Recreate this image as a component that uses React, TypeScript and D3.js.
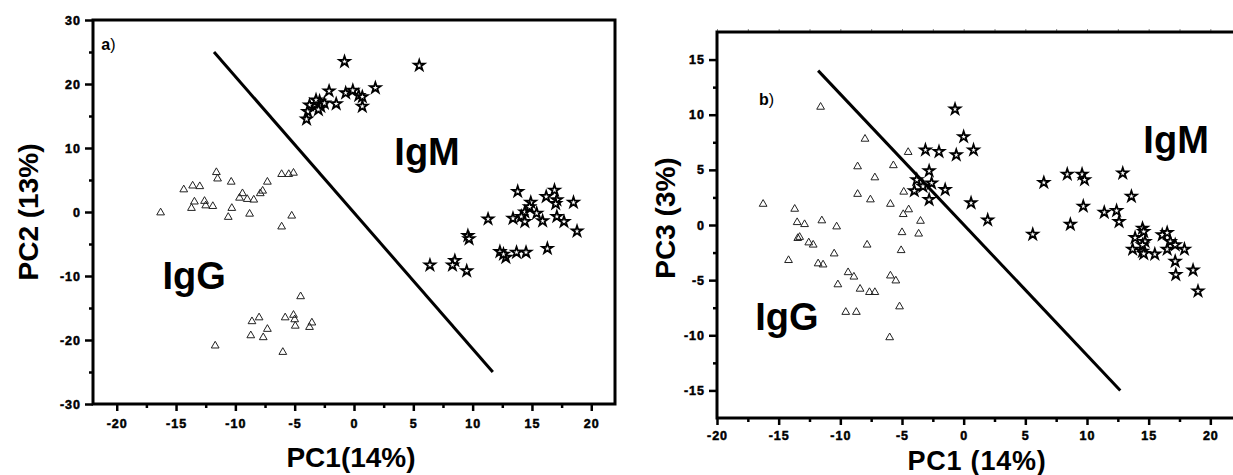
import React, { useEffect, useRef } from "react";
import * as d3 from "d3";

type Pt = [number, number];

// panel a) PC1 vs PC2
const aIgG: Pt[] = [
  [-16.3, -0.1], [-14.35, 3.5], [-13.6, 4.1], [-13.0, 4.0], [-13.45, 1.6], [-13.7, 0.6],
  [-12.6, 1.7], [-12.5, 1.0], [-11.9, 0.9], [-11.6, 6.2], [-11.5, 5.2], [-10.35, 4.7],
  [-10.3, 0.6], [-10.6, -0.8], [-9.4, 2.9], [-9.65, 2.2], [-9.0, 2.0], [-8.45, 1.9],
  [-8.8, -0.3], [-7.9, 2.9], [-7.7, 3.3], [-7.3, 4.7], [-6.1, 5.9], [-5.5, 5.9],
  [-5.1, 6.1], [-6.1, -2.3], [-5.25, -0.6],
  [-4.5, -13.2], [-8.6, -17.1], [-8.0, -16.5], [-8.7, -19.3], [-7.3, -18.3], [-7.65, -19.6],
  [-5.8, -16.5], [-5.1, -16.1], [-5.0, -16.8], [-4.95, -17.8], [-3.75, -18.0], [-3.55, -17.3],
  [-6.0, -21.9], [-11.7, -20.9],
];
const aIgM: Pt[] = [
  [-0.8, 23.5], [5.5, 22.9], [1.8, 19.4], [-2.1, 18.9], [-0.7, 18.6], [-0.1, 19.0],
  [0.4, 18.2], [0.7, 18.0], [0.7, 16.5], [-1.5, 16.9], [-2.9, 17.3], [-3.3, 16.8],
  [-2.8, 16.5], [-3.75, 16.7], [-3.0, 16.0], [-3.9, 15.7], [-4.0, 14.5], [-3.2, 17.5],
  [-2.5, 17.0],
  [13.8, 3.2], [11.3, -1.1], [9.6, -3.7], [9.7, -4.2], [14.9, 1.5], [16.2, 2.4],
  [16.9, 3.4], [17.1, 1.9], [17.0, 1.3], [18.5, 1.5], [14.4, 0.0], [13.4, -1.0],
  [14.1, -0.7], [14.4, -1.5], [15.4, -0.2], [15.9, -1.4], [17.1, -0.7], [17.7, -1.5],
  [18.8, -3.0], [14.8, 0.8], [16.3, -5.7], [12.3, -6.2], [13.7, -6.3], [14.5, -6.3],
  [12.8, -7.1], [8.5, -7.6], [8.3, -8.3], [6.4, -8.3], [9.5, -9.2], [12.6, -6.6],
];
const aSplit: Pt[] = [[-11.8, 25], [11.7, -25]];

// panel b) PC1 vs PC3
const bIgG: Pt[] = [
  [-8.0, 7.8], [-4.5, 6.6], [-8.6, 5.3], [-5.7, 5.4], [-7.2, 4.3], [-8.6, 2.8],
  [-7.56, 2.3], [-5.94, 1.9], [-4.86, 3.0], [-4.46, 1.4], [-4.9, 0.97], [-3.5, 0.36],
  [-5.0, -0.67], [-3.65, -0.8], [-5.07, -2.3], [-7.83, -1.8], [-10.5, -2.6], [-16.26, 1.9],
  [-13.7, 1.45], [-13.5, 0.24], [-12.9, 0.06], [-11.5, 0.4], [-10.3, -0.15], [-13.45, -1.2],
  [-13.3, -1.1], [-12.56, -1.6], [-12.2, -1.8], [-14.2, -3.2], [-11.8, -3.5], [-11.4, -3.6],
  [-9.37, -4.3], [-8.9, -4.7], [-10.2, -5.4], [-5.94, -4.6], [-5.5, -5.05], [-8.4, -5.8],
  [-7.64, -6.1], [-7.2, -6.1], [-5.2, -7.4], [-9.56, -7.9], [-8.7, -7.9], [-6.0, -10.2],
  [-11.6, 10.7],
];
const bIgM: Pt[] = [
  [-0.7, 10.5], [0.0, 8.0], [-3.1, 6.8], [-2.0, 6.65], [-0.6, 6.35], [0.8, 6.8],
  [-2.8, 4.9], [-3.8, 4.1], [-2.6, 3.8], [-3.3, 3.5], [-4.0, 3.1], [-2.8, 2.3],
  [-1.5, 3.2], [0.6, 2.0], [1.95, 0.45],
  [6.5, 3.85], [8.4, 4.6], [9.6, 4.6], [9.8, 4.1], [12.9, 4.7], [13.6, 2.6],
  [9.7, 1.7], [8.65, 0.05], [5.6, -0.85], [11.4, 1.15], [12.4, 1.3], [12.6, 0.3],
  [14.5, -0.3], [14.6, -0.6], [13.9, -1.15], [14.7, -1.5], [13.7, -2.2], [14.5, -2.4],
  [15.5, -2.65], [16.1, -0.9], [16.5, -0.7], [16.75, -1.5], [17.15, -1.8], [16.5, -2.2],
  [17.9, -2.2], [17.15, -3.3], [17.2, -4.5], [18.6, -4.1], [19.0, -6.0], [14.5, -1.8],
  [14.6, -2.6],
];
const bSplit: Pt[] = [[-11.8, 14], [12.7, -15]];

const xTicks = [-20, -15, -10, -5, 0, 5, 10, 15, 20];
const aYTicks = [-30, -20, -10, 0, 10, 20, 30];
const bYTicks = [-15, -10, -5, 0, 5, 10, 15];

const FONT = "'Liberation Sans', Arial, Helvetica, sans-serif";

const panels = [
  {
    igg: aIgG, igm: aIgM, split: aSplit,
    xDomain: [-22, 22], xRange: [93, 615],
    yDomain: [-30, 30], yRange: [404, 20],
    yTicks: aYTicks,
    xTitle: "PC1(14%)", xTitlePos: [351, 467], xTitleSize: 28, xTitleSpacing: 0,
    yTitle: "PC2 (13%)", yTitlePos: [38, 212],
    tag: "a", tagAt: [-21.3, 25.3],
    igmAt: [3.4, 7.3], iggAt: [-16.15, -12.0],
    xPad: 8, topTicks: false,
  },
  {
    igg: bIgG, igm: bIgM, split: bSplit,
    xDomain: [-20, 22], xRange: [717, 1235],
    yDomain: [-17.5, 17.5], yRange: [418, 32],
    yTicks: bYTicks,
    xTitle: "PC1 (14%)", xTitlePos: [977, 470], xTitleSize: 27, xTitleSpacing: 0.8,
    yTitle: "PC3 (3%)", yTitlePos: [675, 218],
    tag: "b", tagAt: [-16.6, 10.9],
    igmAt: [14.57, 6.53], iggAt: [-16.9, -9.5],
    xPad: 6, topTicks: true,
  },
];

const mids = (t: number[]) => d3.pairs(t).map(([a, b]) => (a + b) / 2);

function Panel({ cfg }: { cfg: any }) {
  const ref = useRef<SVGGElement>(null);

  useEffect(() => {
    const g = d3.select(ref.current);
    g.selectAll("*").remove();

    const x = d3.scaleLinear().domain(cfg.xDomain).range(cfg.xRange);
    const y = d3.scaleLinear().domain(cfg.yDomain).range(cfg.yRange);
    const [x0, x1] = cfg.xRange;
    const [yb, yt] = cfg.yRange;

    const styleAxis = (sel: any) => {
      sel.select(".domain").remove();
      sel.attr("font-family", FONT).attr("font-size", 12.5).attr("font-weight", "bold");
      sel.selectAll(".tick line").attr("stroke", "#000").attr("stroke-width", 2.5);
      sel.selectAll(".tick text")
        .attr("letter-spacing", 1).attr("fill", "#000")
        .attr("stroke", "#000").attr("stroke-width", 0.5);
    };

    // bottom axis
    g.append("g").attr("transform", `translate(0,${yb})`)
      .call(d3.axisBottom(x).tickValues(mids(xTicks)).tickSize(4).tickFormat(() => ""))
      .call(styleAxis);
    g.append("g").attr("transform", `translate(0,${yb})`)
      .call(d3.axisBottom(x).tickValues(xTicks).tickSize(7).tickPadding(cfg.xPad).tickFormat((d: any) => String(d)))
      .call(styleAxis);

    // left axis
    g.append("g").attr("transform", `translate(${x0},0)`)
      .call(d3.axisLeft(y).tickValues(mids(cfg.yTicks)).tickSize(4).tickFormat(() => ""))
      .call(styleAxis);
    g.append("g").attr("transform", `translate(${x0},0)`)
      .call(d3.axisLeft(y).tickValues(cfg.yTicks).tickSize(8).tickPadding(4).tickFormat((d: any) => String(d)))
      .call(styleAxis);

    if (cfg.topTicks) {
      const all = xTicks.concat(mids(xTicks));
      g.append("g").attr("transform", `translate(0,${yt})`)
        .call(d3.axisTop(x).tickValues(all).tickSize(3).tickFormat(() => ""))
        .call((s: any) => {
          s.select(".domain").remove();
          s.selectAll(".tick line").attr("stroke", "#888").attr("stroke-width", 1);
        });
    }

    // frame
    g.append("rect")
      .attr("x", x0).attr("y", yt)
      .attr("width", x1 - x0).attr("height", yb - yt)
      .attr("fill", "none").attr("stroke", "#000").attr("stroke-width", 3);

    // IgG triangles
    const tri = d3.symbol(d3.symbolTriangle, 26)();
    g.append("g").selectAll("path").data(cfg.igg).join("path")
      .attr("d", tri)
      .attr("transform", (d: Pt) => `translate(${x(d[0])},${y(d[1])})`)
      .attr("fill", "none").attr("stroke", "#222").attr("stroke-width", 1);

    // IgM stars
    const star = d3.symbol(d3.symbolStar, 34)();
    g.append("g").selectAll("path").data(cfg.igm).join("path")
      .attr("d", star)
      .attr("transform", (d: Pt) => `translate(${x(d[0])},${y(d[1])})`)
      .attr("fill", "#fff").attr("stroke", "#000").attr("stroke-width", 1.8)
      .attr("stroke-linejoin", "miter");

    // separating line
    g.append("path")
      .attr("d", d3.line<Pt>().x((d) => x(d[0])).y((d) => y(d[1]))(cfg.split))
      .attr("fill", "none").attr("stroke", "#000").attr("stroke-width", 3);

    // labels
    const tag = g.append("text")
      .attr("x", x(cfg.tagAt[0])).attr("y", y(cfg.tagAt[1]))
      .attr("font-family", FONT).attr("font-size", 16).attr("font-weight", "bold");
    tag.append("tspan").text(cfg.tag);
    tag.append("tspan").attr("font-weight", "normal").text(")");

    g.append("text").attr("x", x(cfg.igmAt[0])).attr("y", y(cfg.igmAt[1]))
      .attr("font-family", FONT).attr("font-size", 38).attr("font-weight", "bold").text("IgM");
    g.append("text").attr("x", x(cfg.iggAt[0])).attr("y", y(cfg.iggAt[1]))
      .attr("font-family", FONT).attr("font-size", 38).attr("font-weight", "bold").text("IgG");

    g.append("text")
      .attr("x", cfg.xTitlePos[0]).attr("y", cfg.xTitlePos[1])
      .attr("text-anchor", "middle")
      .attr("font-family", FONT).attr("font-size", cfg.xTitleSize).attr("font-weight", "bold")
      .attr("letter-spacing", cfg.xTitleSpacing)
      .text(cfg.xTitle);
    g.append("text")
      .attr("transform", `translate(${cfg.yTitlePos[0]},${cfg.yTitlePos[1]}) rotate(-90)`)
      .attr("text-anchor", "middle")
      .attr("font-family", FONT).attr("font-size", 28).attr("font-weight", "bold")
      .text(cfg.yTitle);
  }, [cfg]);

  return <g ref={ref} />;
}

export default function App() {
  return (
    <svg
      width={1233}
      height={475}
      style={{ position: "absolute", left: 0, top: 0, background: "#fff" }}
    >
      <rect width={1233} height={475} fill="#fff" />
      {panels.map((p, i) => (
        <Panel key={i} cfg={p} />
      ))}
    </svg>
  );
}
